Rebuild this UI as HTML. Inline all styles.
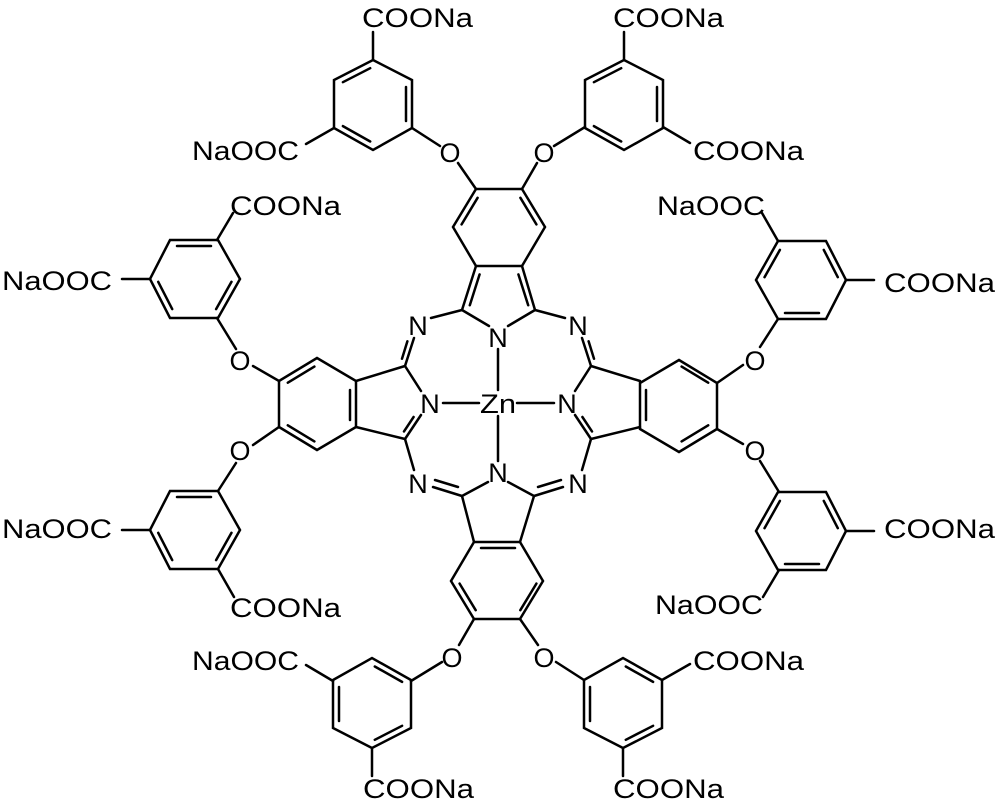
<!DOCTYPE html>
<html><head><meta charset="utf-8"><style>
html,body{margin:0;padding:0;background:#fff}
svg{display:block}
text{font-family:"Liberation Sans",Arial,sans-serif;font-size:27px;fill:#000}
</style></head><body>
<svg width="998" height="808" viewBox="0 0 998 808" xmlns="http://www.w3.org/2000/svg">
<defs>
<g id="ring">
<polygon points="373,60 412,80 412,128 373,150 334,128 334,80" fill="none"/>
<line x1="370.2" y1="68.2" x2="342.9" y2="82.2"/>
<line x1="406" y1="87" x2="406" y2="121"/>
<line x1="342.9" y1="126.1" x2="370.2" y2="141.5"/>
</g>
<g id="unit">
<polygon points="476,189 522,189 545,227 522,266 476,266 453,227" fill="none"/>
<line x1="476" y1="189" x2="458" y2="163"/>
<line x1="522" y1="189" x2="537" y2="163"/>
<line x1="440" y1="146" x2="412" y2="128"/>
<line x1="554" y1="146" x2="585" y2="127"/>
<use href="#ring"/>
<line x1="373" y1="60" x2="373" y2="32"/>
<line x1="334" y1="128" x2="306" y2="144"/>
<use href="#ring" transform="translate(251,0)"/>
<line x1="624" y1="60" x2="624" y2="32"/>
<line x1="663" y1="127" x2="690" y2="143"/>
</g>
</defs>
<g stroke="#000" stroke-width="2.5" stroke-linecap="round" fill="none">
<use href="#unit"/>
<g transform="translate(-5,2) rotate(-90,498,403)"><use href="#unit"/></g>
<g transform="translate(5,2) rotate(90,498,403)"><use href="#unit"/></g>
<g transform="translate(0,2) rotate(180,498,403)"><use href="#unit"/></g>
<line x1="461.6" y1="224.4" x2="477.6" y2="197.8"/>
<line x1="536.4" y1="224.4" x2="520.4" y2="197.8"/>
<line x1="479.6" y1="274.4" x2="469.8" y2="305.2"/>
<line x1="518.4" y1="274.4" x2="528.2" y2="305.2"/>
<line x1="350" y1="390" x2="350" y2="420"/>
<line x1="287.8" y1="382.7" x2="314.4" y2="366.6"/>
<line x1="287.8" y1="425.3" x2="314.4" y2="441.4"/>
<line x1="646" y1="390" x2="646" y2="420"/>
<line x1="708.2" y1="382.7" x2="681.6" y2="366.6"/>
<line x1="708.2" y1="425.3" x2="681.6" y2="441.4"/>
<line x1="481" y1="548" x2="515" y2="548"/>
<line x1="459.6" y1="583.6" x2="475.7" y2="610.2"/>
<line x1="536.4" y1="583.6" x2="520.3" y2="610.2"/>
<line x1="476" y1="266" x2="462" y2="310"/>
<line x1="522" y1="266" x2="535" y2="310"/>
<line x1="462" y1="310" x2="489" y2="326"/>
<line x1="535" y1="310" x2="508" y2="326"/>
<line x1="498" y1="349" x2="498" y2="390"/>
<line x1="462" y1="310" x2="431" y2="318"/>
<line x1="535" y1="310" x2="565" y2="318"/>
<line x1="356" y1="381" x2="405" y2="366"/>
<line x1="356" y1="427" x2="405" y2="439"/>
<line x1="405" y1="366" x2="421" y2="391"/>
<line x1="405" y1="439" x2="421" y2="415"/>
<line x1="404" y1="431.4" x2="413.6" y2="417"/>
<line x1="405" y1="366" x2="414" y2="338"/>
<line x1="402" y1="358.7" x2="407.4" y2="341.3"/>
<line x1="405" y1="439" x2="414" y2="470"/>
<line x1="640" y1="381" x2="591" y2="366"/>
<line x1="640" y1="427" x2="591" y2="439"/>
<line x1="591" y1="366" x2="575" y2="391"/>
<line x1="591" y1="439" x2="575" y2="415"/>
<line x1="592" y1="431.4" x2="582.4" y2="417"/>
<line x1="591" y1="366" x2="582" y2="338"/>
<line x1="594" y1="358.7" x2="588.6" y2="341.3"/>
<line x1="591" y1="439" x2="582" y2="470"/>
<line x1="474" y1="542" x2="462" y2="496"/>
<line x1="520" y1="542" x2="534" y2="496"/>
<line x1="462" y1="496" x2="488" y2="482"/>
<line x1="534" y1="496" x2="508" y2="482"/>
<line x1="498" y1="416" x2="498" y2="461"/>
<line x1="433" y1="487" x2="462" y2="496"/>
<line x1="435" y1="480" x2="458" y2="487"/>
<line x1="563" y1="487" x2="534" y2="496"/>
<line x1="561" y1="480" x2="538" y2="487"/>
<line x1="443" y1="403" x2="479" y2="403"/>
<line x1="517" y1="403" x2="554" y2="403"/>
</g>
<g text-anchor="middle">
<text x="498" y="347">N</text>
<text x="430" y="413">N</text>
<text x="567" y="413">N</text>
<text x="498" y="482">N</text>
<text x="418" y="335">N</text>
<text x="578" y="335">N</text>
<text x="418" y="493">N</text>
<text x="578" y="493">N</text>
<text x="498" y="413" textLength="36" lengthAdjust="spacingAndGlyphs">Zn</text>
<text x="450" y="162">O</text>
<text x="544" y="162">O</text>
<text x="452" y="667">O</text>
<text x="544" y="667">O</text>
<text x="240" y="370">O</text>
<text x="240" y="460">O</text>
<text x="755" y="370">O</text>
<text x="755" y="460">O</text>
</g>
<g>
<text x="362" y="27" textLength="111" lengthAdjust="spacingAndGlyphs">COONa</text>
<text x="192" y="160" textLength="107" lengthAdjust="spacingAndGlyphs">NaOOC</text>
<text x="613" y="27" textLength="111" lengthAdjust="spacingAndGlyphs">COONa</text>
<text x="693" y="160" textLength="111" lengthAdjust="spacingAndGlyphs">COONa</text>
<text x="230" y="215" textLength="111" lengthAdjust="spacingAndGlyphs">COONa</text>
<text x="2" y="290" textLength="110" lengthAdjust="spacingAndGlyphs">NaOOC</text>
<text x="2" y="538" textLength="110" lengthAdjust="spacingAndGlyphs">NaOOC</text>
<text x="230" y="617" textLength="111" lengthAdjust="spacingAndGlyphs">COONa</text>
<text x="657" y="215" textLength="108" lengthAdjust="spacingAndGlyphs">NaOOC</text>
<text x="884" y="292" textLength="111" lengthAdjust="spacingAndGlyphs">COONa</text>
<text x="884" y="538" textLength="111" lengthAdjust="spacingAndGlyphs">COONa</text>
<text x="655" y="614" textLength="108" lengthAdjust="spacingAndGlyphs">NaOOC</text>
<text x="192" y="670" textLength="107" lengthAdjust="spacingAndGlyphs">NaOOC</text>
<text x="693" y="670" textLength="111" lengthAdjust="spacingAndGlyphs">COONa</text>
<text x="363" y="798" textLength="111" lengthAdjust="spacingAndGlyphs">COONa</text>
<text x="613" y="798" textLength="111" lengthAdjust="spacingAndGlyphs">COONa</text>
</g>
</svg>
</body></html>
